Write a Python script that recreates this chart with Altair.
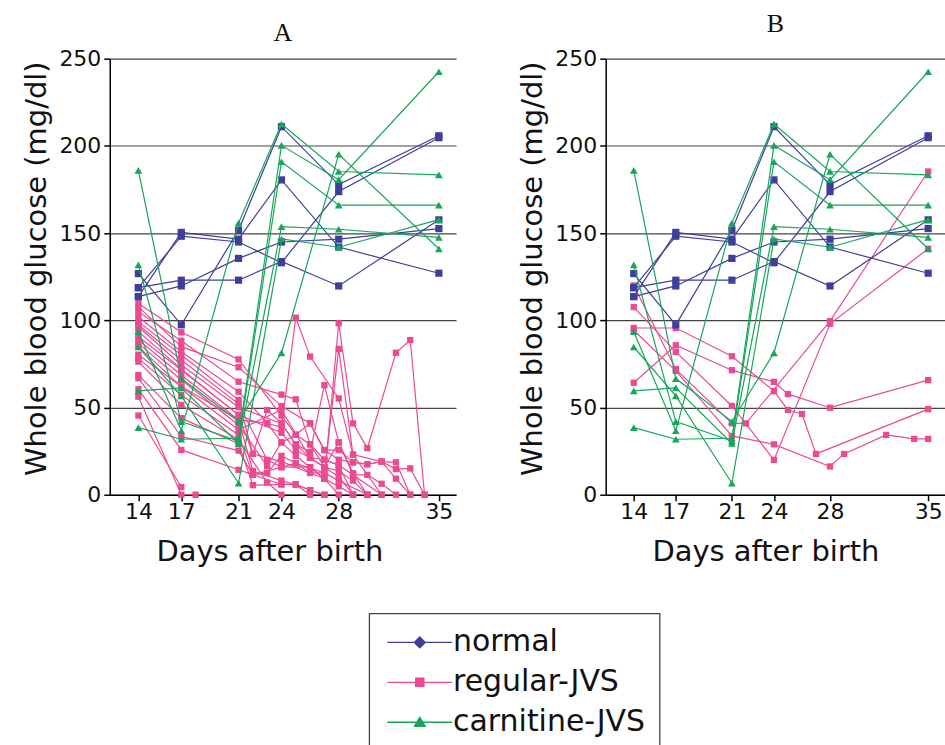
import altair as alt
import pandas as pd

GROUPS = ["normal", "regular-JVS", "carnitine-JVS"]
COLORS = ["#3E3E9B", "#EB4A93", "#17A65A"]
X_TICKS = [14, 17, 21, 24, 28, 35]
Y_TICKS = [0, 50, 100, 150, 200, 250]

# each subject: list of (day after birth, whole blood glucose mg/dl)
NORMAL = [
    [(14, 126.8), (17, 97.4), (21, 151.7), (24, 211.0), (28, 177.8), (35, 205.8)],
    [(14, 118.7), (17, 148.2), (21, 144.9), (24, 133.0), (28, 173.8), (35, 204.7)],
    [(14, 113.6), (17, 150.4), (21, 146.5), (24, 180.5), (28, 142.0), (35, 127.0)],
    [(14, 118.7), (17, 123.0), (21, 123.0), (24, 133.7), (28, 119.7), (35, 157.6)],
    [(14, 113.6), (17, 119.7), (21, 135.5), (24, 144.9), (28, 146.5), (35, 152.6)],
]

CARNITINE = [
    [(14, 186.0), (17, 66.6), (21, 42.0), (24, 81.3), (28, 195.2), (35, 141.0)],
    [(14, 131.8), (17, 41.9), (21, 30.8), (24, 190.9), (28, 166.0), (35, 166.0)],
    [(14, 93.5), (17, 36.7), (21, 155.8), (24, 212.5), (28, 185.3), (35, 183.4)],
    [(14, 84.7), (17, 56.7), (21, 6.6), (24, 146.6), (28, 141.9), (35, 157.7)],
    [(14, 59.6), (17, 61.3), (21, 29.4), (24, 153.7), (28, 152.2), (35, 147.6)],
    [(14, 38.5), (17, 31.8), (21, 32.4), (24, 200.3), (28, 180.6), (35, 242.5)],
]

REGULAR_A = [
    [(14, 109.7), (17, 93.1), (21, 77.6), (24, 45.3), (25, 34.4), (26, 28.9), (27, 20.1), (28, 16.9), (29, 11.4), (30, 11.4), (31, 6.3), (32, 0)],
    [(14, 107.7), (17, 84.9), (21, 73.1), (24, 50.8), (26, 40.9), (27, 25.6), (28, 20.1), (29, 18.6), (30, 17.5), (31, 19.0), (32, 14.7), (33, 15.1), (34, 0)],
    [(14, 104.9), (17, 88.3), (21, 64.8), (24, 57.4), (25, 54.7), (26, 28.9), (27, 15.8), (28, 13.6), (29, 8.1), (30, 0)],
    [(14, 102.0), (17, 82.0), (21, 59.1), (23, 41.0), (24, 38.7), (25, 101.5), (26, 79.2), (28, 55.2), (29, 23.0), (31, 0)],
    [(14, 99.1), (17, 80.1), (21, 54.3), (22, 23.4), (24, 19.0), (26, 12.5), (27, 9.2), (28, 98.3), (29, 40.9), (30, 26.7), (32, 81.4), (33, 88.7), (34, 0)],
    [(14, 97.3), (17, 77.2), (21, 52.1), (23, 20.0), (24, 15.8), (25, 18.0), (27, 12.5), (28, 83.6), (29, 23.0), (31, 19.0), (32, 18.6), (33, 0)],
    [(14, 96.3), (17, 74.4), (21, 50.2), (24, 40.9), (25, 28.9), (26, 24.5), (27, 62.8), (28, 30.0), (29, 11.4), (31, 0)],
    [(14, 90.6), (17, 71.5), (21, 45.8), (24, 35.5), (25, 25.6), (26, 21.2), (27, 15.8), (28, 10.3), (29, 0)],
    [(14, 88.7), (17, 68.6), (21, 42.9), (22, 13.6), (24, 8.1), (25, 5.9), (26, 2.6), (27, 0)],
    [(14, 86.8), (17, 65.8), (21, 40.0), (23, 16.4), (24, 30.0), (25, 22.3), (26, 15.8), (27, 9.2), (28, 4.8), (29, 0)],
    [(14, 84.9), (17, 62.0), (21, 37.2), (24, 48.6), (26, 21.2), (27, 15.8), (28, 30.0), (29, 12.4), (30, 0)],
    [(14, 78.2), (17, 57.2), (21, 34.3), (22, 11.4), (23, 12.5), (24, 22.3), (25, 18.0), (26, 12.5), (27, 12.5), (28, 8.1), (30, 0)],
    [(14, 76.3), (17, 51.5), (21, 31.5), (23, 7.0), (24, 0)],
    [(14, 68.6), (17, 43.9), (21, 29.2), (22, 5.5), (24, 5.9), (25, 5.9), (26, 0)],
    [(14, 66.8), (17, 33.4), (21, 25.3), (22, 11.4), (24, 15.8), (26, 15.8), (27, 9.2), (28, 0)],
    [(14, 60.5), (17, 25.7), (21, 14.3), (24, 5.9), (25, 5.9), (26, 2.6), (27, 0)],
    [(14, 56.2), (17, 0), (18, 0)],
    [(14, 45.4), (17, 4.4)],
    [(14, 93.5), (17, 72.0), (21, 45.8), (22, 23.4), (23, 48.6), (24, 40.9), (25, 28.9), (26, 21.2), (27, 20.1), (28, 16.9), (29, 0)],
    [(14, 80.3), (17, 62.0), (21, 42.9), (23, 41.0), (24, 30.0), (25, 34.4), (26, 40.9), (27, 25.6), (28, 25.6), (29, 18.6), (30, 17.5), (31, 19.0), (32, 9.2), (33, 0)],
]

REGULAR_B = [
    [(14, 95.6), (17, 95.6), (21, 79.4), (24, 59.4), (25, 48.6), (26, 46.3), (27, 23.4), (35, 49.1)],
    [(14, 64.2), (17, 85.7), (21, 71.4), (24, 64.7), (25, 57.7), (28, 49.9), (35, 65.7)],
    [(14, 120.0), (17, 72.0), (21, 40.9), (22, 40.9), (28, 99.5), (35, 185.3)],
    [(14, 107.6), (17, 81.9), (21, 50.9), (24, 20.0), (28, 98.0), (35, 141.0)],
    [(14, 94.3), (17, 71.0), (21, 33.7), (24, 28.9), (28, 16.2), (29, 23.4), (32, 34.3), (34, 32.0), (35, 32.0)],
]

# legend glyphs: line segment with the group's marker in the middle
LEGEND_SHAPES = [
    "M-1,0H5M2,-0.5L2.5,0L2,0.5L1.5,0Z",
    "M-1,0H5M1.62,-0.38H2.38V0.38H1.62Z",
    "M-1,0H5M2,-0.46L2.5,0.38H1.5Z",
]
MARKERS = {"normal": ("square", 52), "regular-JVS": ("square", 40), "carnitine-JVS": ("triangle-up", 60)}


def rows(panel, group, subjects):
    out = []
    for i, subj in enumerate(subjects):
        for day, val in subj:
            out.append({"panel": panel, "group": group, "subject": f"{panel}-{group}-{i}",
                        "day": day, "glucose": val})
    return out


data = []
for p, reg in (("A", REGULAR_A), ("B", REGULAR_B)):
    data += rows(p, "normal", NORMAL)
    data += rows(p, "regular-JVS", reg)
    data += rows(p, "carnitine-JVS", CARNITINE)
df = pd.DataFrame(data)

FONT = "DejaVu Sans"
PL, PT = 23, 10
X_DOMAIN = [12, 36.2]
color_of = dict(zip(GROUPS, COLORS))

x_enc = alt.X("day:Q", scale=alt.Scale(domain=X_DOMAIN, nice=False, zero=False),
              axis=alt.Axis(values=X_TICKS, title="Days after birth", grid=False,
                            labelFlush=False, titleX=160))
y_enc = alt.Y("glucose:Q", scale=alt.Scale(domain=[0, 250], nice=False),
              axis=alt.Axis(values=Y_TICKS, title="Whole blood glucose (mg/dl)", grid=True,
                            labelFlush=False, titleY=210))

# legend position is relative to panel A's plot origin
LEG = alt.Legend(title=None, orient="none", legendX=260, legendY=556,
                 labelLimit=500, symbolSize=470, symbolStrokeWidth=1.3, symbolOpacity=1)


def panel(pname, title_offset, width, with_legend):
    sub = df[df.panel == pname]
    layers = []
    for g in ["regular-JVS", "normal", "carnitine-JVS"]:
        gd = sub[sub.group == g]
        base = alt.Chart(gd).encode(x=x_enc, y=y_enc)
        layers.append(base.mark_line(color=color_of[g], strokeWidth=1.2).encode(
            detail="subject:N", order="day:Q"))
        shape, size = MARKERS[g]
        layers.append(base.mark_point(shape=shape, filled=True, size=size,
                                      color=color_of[g], opacity=1))
    if with_legend:
        leg = alt.Chart(sub).transform_filter("datum.glucose < -1").mark_point(
            filled=True, opacity=1, strokeWidth=1.3).encode(
            x=x_enc, y=y_enc,
            fill=alt.Fill("group:N", scale=alt.Scale(domain=GROUPS, range=COLORS), legend=LEG),
            stroke=alt.Stroke("group:N", scale=alt.Scale(domain=GROUPS, range=COLORS), legend=LEG),
            shape=alt.Shape("group:N", scale=alt.Scale(domain=GROUPS, range=LEGEND_SHAPES), legend=LEG),
        )
        layers.append(leg)
    return alt.layer(*layers).properties(
        width=width, height=437,
        title=alt.Title(pname, offset=title_offset),
    )


chart = alt.hconcat(
    panel("A", 2, 347, True),
    panel("B", 11, 340, False),
    spacing=63,
).properties(
    padding={"left": PL, "top": PT, "right": 0, "bottom": -8},
).configure_view(stroke=None).configure_axis(
    labelFont=FONT, labelFontSize=22, labelColor="#111",
    titleFont=FONT, titleFontSize=29, titleFontWeight="normal", titleColor="#111",
    domainColor="#000", domainWidth=1.5, tickColor="#000", tickWidth=1.5, tickSize=6,
    gridColor="#444", gridWidth=1.2, labelPadding=3,
).configure_axisX(
    titlePadding=15, titleFontSize=29, labelPadding=1,
).configure_axisY(
    titlePadding=7,
).configure_title(
    font="Liberation Serif", fontSize=26, fontWeight="normal", color="#111", anchor="middle",
).configure_legend(
    labelFont=FONT, labelFontSize=30, labelColor="#111", strokeColor="#444",
    strokeWidth=1.3, fillColor="white", padding=14, rowPadding=10, labelOffset=40,
    cornerRadius=0,
)

chart.save("out.html", embed_options={"renderer": "svg", "actions": False})
